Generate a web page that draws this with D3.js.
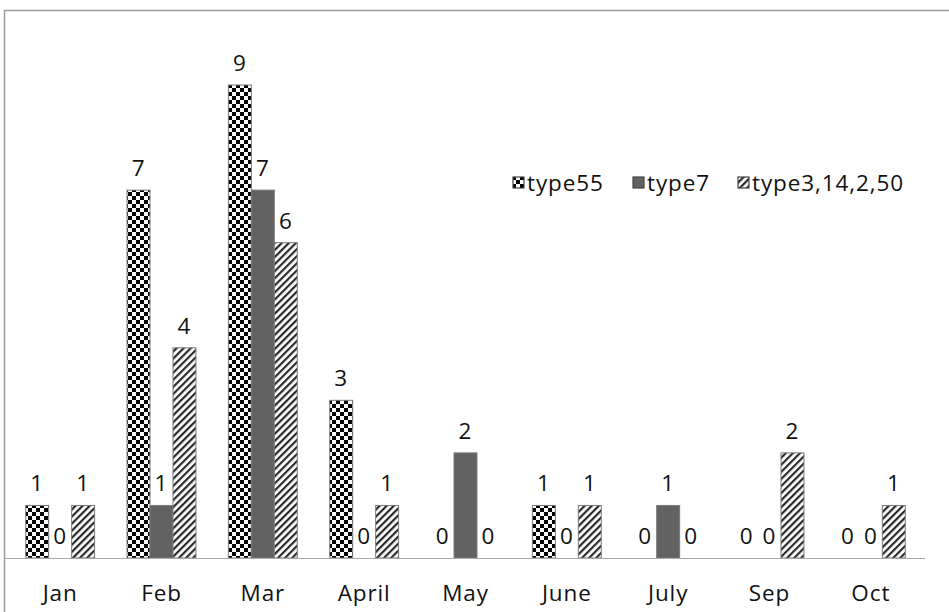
<!DOCTYPE html>
<html><head><meta charset="utf-8">
<script src="https://cdn.jsdelivr.net/npm/d3@7/dist/d3.min.js"></script>
<style>body{margin:0;background:#fff}svg{display:block}text{font-family:"Open Sans",Lato,sans-serif;fill:#111;letter-spacing:0.9px}</style>
</head><body>
<svg id="c" width="949" height="612"></svg>
<script>
const categories = ["Jan","Feb","Mar","April","May","June","July","Sep","Oct"];
const seriesNames = ["type55","type7","type3,14,2,50"];
const type55 = [1,7,9,3,0,1,0,0,0];
const type7 = [0,1,7,0,2,0,1,0,0];
const type3_14_2_50 = [1,4,6,1,0,1,0,2,1];
const seriesValues = [type55, type7, type3_14_2_50];

const FS = 22.5;
const svg = d3.select("#c");
const defs = svg.append("defs");
// checker pattern
const ck = defs.append("pattern").attr("id","p0").attr("patternUnits","userSpaceOnUse").attr("width",8).attr("height",8);
ck.append("rect").attr("width",8).attr("height",8).attr("fill","#fff");
ck.append("rect").attr("width",4).attr("height",4).attr("fill","#000");
ck.append("rect").attr("x",4).attr("y",4).attr("width",4).attr("height",4).attr("fill","#000");
// hatch
const ht = defs.append("pattern").attr("id","p2").attr("patternUnits","userSpaceOnUse").attr("width",5).attr("height",5).attr("patternTransform","rotate(45)");
ht.append("rect").attr("width",5).attr("height",5).attr("fill","#fff");
ht.append("rect").attr("x",0).attr("y",0).attr("width",2.2).attr("height",5).attr("fill","#2a2a2a");
const fills = ["url(#p0)","#626262","url(#p2)"];

// frame
svg.append("path").attr("d","M4.5,612 V10.5 H949").attr("fill","none").attr("stroke","#9a9a9a").attr("stroke-width",1.5);

const x0 = d3.scaleBand().domain(categories).range([9.5,921.5]).paddingInner(0.32).paddingOuter(0.16);
const x1 = d3.scaleBand().domain(seriesNames).range([0,x0.bandwidth()]);
const y = d3.scaleLinear().domain([0,9]).range([558,85]);

const g = svg.append("g");
categories.forEach((c,i)=>{
  seriesNames.forEach((s,j)=>{
    const v = seriesValues[j][i];
    const bx = x0(c)+x1(s);
    if (v>0) g.append("rect").attr("x",bx).attr("y",y(v)).attr("width",x1.bandwidth()).attr("height",y(0)-y(v))
      .attr("fill",fills[j]).attr("stroke","#7a7a7a").attr("stroke-width",1);
    g.append("text").attr("x",bx+x1.bandwidth()/2).attr("y",y(v)-14).attr("text-anchor","middle").attr("font-size",FS).text(v);
  });
});

// baseline
svg.append("line").attr("x1",5).attr("x2",925).attr("y1",y(0)+0.5).attr("y2",y(0)+0.5).attr("stroke","#a8a8a8").attr("stroke-width",1.2);

// x axis labels
const ax = svg.append("g").attr("transform",`translate(0,${y(0)})`).call(d3.axisBottom(x0).tickSize(0).tickPadding(0));
ax.select(".domain").remove();
ax.selectAll("text").attr("font-size",FS).attr("dy",0).attr("y",43).style("font-family","'Open Sans',Lato,sans-serif").attr("fill","#111");

// legend
const legX = [513,633,738];
seriesNames.forEach((s,j)=>{
  svg.append("rect").attr("x",legX[j]).attr("y",177).attr("width",11).attr("height",11).attr("fill",fills[j]).attr("stroke","#444").attr("stroke-width",1.2);
  svg.append("text").attr("x",legX[j]+14).attr("y",191).attr("font-size",FS).text(s);
});
</script>
</body></html>
